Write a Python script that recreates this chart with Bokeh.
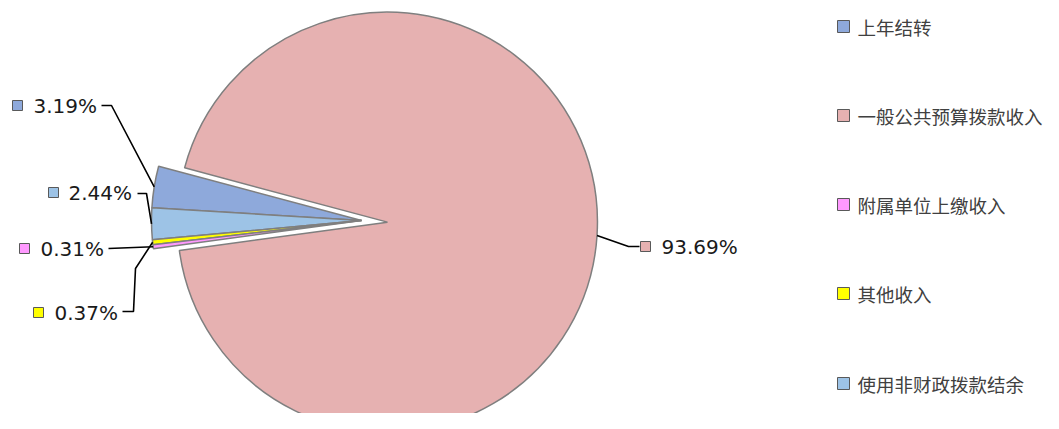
import math
from bokeh.plotting import figure
from bokeh.models import Range1d, ColumnDataSource
from bokeh.embed import file_html
from bokeh.resources import INLINE
from bokeh.core.properties import value

# ---- data ----
categories = ["上年结转", "一般公共预算拨款收入", "附属单位上缴收入", "其他收入", "使用非财政拨款结余"]
values = [3.19, 93.69, 0.31, 0.37, 2.44]
pct_labels = ["3.19%", "93.69%", "0.31%", "0.37%", "2.44%"]
colors = ["#8EA9DB", "#E6B1B1", "#FF99FF", "#FFFF00", "#9DC3E6"]

# ---- layout (pixels, origin at the top-left of the chart) ----
WIN_W, WIN_H, MARGIN = 1059, 429, 8
PW, PH = WIN_W - 2 * MARGIN, WIN_H - 2 * MARGIN


def Y(sy):
    return PH - sy


CX, CY = 361, 220          # pie centre
R = 210
START_DEG = 176.5           # where the first slice starts, going clockwise
explode = [0, 26, 0, 0, 0]

# label placements: marker centre x, text x, y, leader path points before anchor
label_layout = [
    dict(mx=17, tx=33, y=105, path=[(101, 105), (111, 105)]),
    dict(mx=645, tx=661, y=246, path=[(639, 246), (628, 246)]),
    dict(mx=24, tx=40, y=248, path=[(108, 248)]),
    dict(mx=38, tx=54, y=312, path=[(122, 311), (133, 311), (135, 268)]),
    dict(mx=53, tx=68, y=192, path=[(137, 193), (146, 193)]),
]

legend_x_marker, legend_x_text = 843, 857
legend_ys = [26, 115, 204, 293, 383]

p = figure(width=PW, height=PH, output_backend="svg", toolbar_location=None,
           x_range=Range1d(0, PW), y_range=Range1d(0, PH),
           min_border=0, frame_width=PW, frame_height=PH)
p.axis.visible = False
p.xgrid.visible = False
p.ygrid.visible = False
p.outline_line_color = None
p.background_fill_color = "white"
p.border_fill_color = "white"

total = sum(values)
xs, ys, sa, ea, anchors = [], [], [], [], []
cur = START_DEG
for v, ex in zip(values, explode):
    span = v / total * 360.0
    s, e = cur, cur - span
    mid = math.radians((s + e) / 2)
    cx = CX + ex * math.cos(mid)
    cy = Y(CY) + ex * math.sin(mid)
    xs.append(cx)
    ys.append(cy)
    sa.append(math.radians(s))
    ea.append(math.radians(e))
    anchors.append((cx + R * math.cos(mid), cy + R * math.sin(mid)))
    cur = e

big = ColumnDataSource(dict(x=[xs[1]], y=[ys[1]], sa=[sa[1]], ea=[ea[1]], color=[colors[1]]))
small_idx = [0, 4, 3, 2]
small = ColumnDataSource(dict(x=[xs[i] for i in small_idx], y=[ys[i] for i in small_idx],
                              sa=[sa[i] for i in small_idx], ea=[ea[i] for i in small_idx],
                              color=[colors[i] for i in small_idx]))
for s in (big, small):
    p.wedge(x="x", y="y", radius=R, start_angle="sa", end_angle="ea", direction="clock",
            fill_color="color", line_color="#7F7F7F", line_width=1.5, source=s)

# leader lines
lx, ly = [], []
for lay, anc in zip(label_layout, anchors):
    pts = [(px, Y(py)) for px, py in lay["path"]] + [anc]
    lx.append([q[0] for q in pts])
    ly.append([q[1] for q in pts])
p.multi_line(xs=lx, ys=ly, line_color="black", line_width=1.6)

# data labels
p.scatter(x=[l["mx"] for l in label_layout], y=[Y(l["y"]) for l in label_layout],
          marker="square", size=10, fill_color=colors, line_color="#595959", line_width=1)
p.text(x=[l["tx"] for l in label_layout], y=[Y(l["y"]) for l in label_layout], text=pct_labels,
       text_font=value("DejaVu Sans"), text_font_size="20px", text_baseline="middle",
       text_align="left", text_color="#1a1a1a")

# legend
p.scatter(x=[legend_x_marker] * len(categories), y=[Y(v) for v in legend_ys], marker="square",
          size=12, fill_color=colors, line_color="#595959", line_width=1)
p.text(x=[legend_x_text] * len(categories), y=[Y(v) for v in legend_ys], text=categories,
       text_font=value("Noto Sans CJK SC"), text_font_size="18.5px", text_baseline="middle",
       text_align="left", text_color="#404040")

open("out.html", "w").write(file_html(p, INLINE))
